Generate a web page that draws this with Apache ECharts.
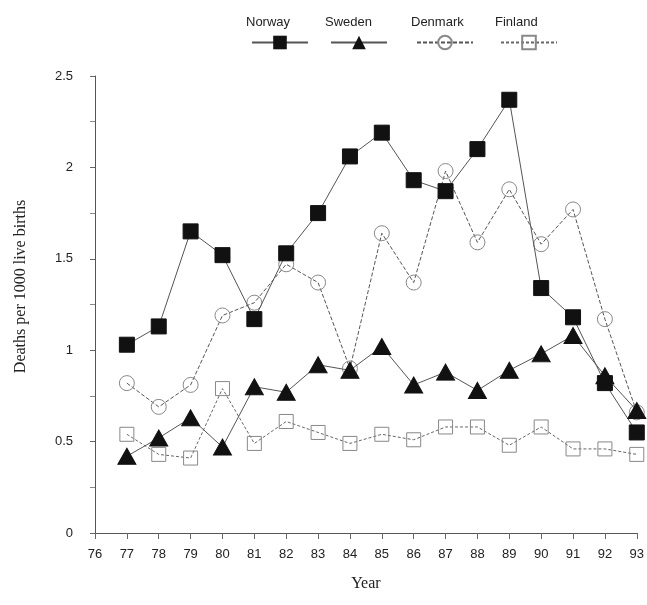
<!DOCTYPE html>
<html>
<head>
<meta charset="utf-8">
<script src="https://cdn.jsdelivr.net/npm/echarts@6/dist/echarts.min.js"></script>
<style>
  html, body { margin: 0; padding: 0; background: #fff; }
  #chart { width: 647px; height: 605px; }
</style>
</head>
<body>
<div id="chart"></div>
<script>
// data
const years = [77, 78, 79, 80, 81, 82, 83, 84, 85, 86, 87, 88, 89, 90, 91, 92, 93]
const norway = [1.03, 1.13, 1.65, 1.52, 1.17, 1.53, 1.75, 2.06, 2.19, 1.93, 1.87, 2.1, 2.37, 1.34, 1.18, 0.82, 0.55]
const sweden = [0.42, 0.52, 0.63, 0.47, 0.8, 0.77, 0.92, 0.89, 1.02, 0.81, 0.88, 0.78, 0.89, 0.98, 1.08, 0.86, 0.67]
const denmark = [0.82, 0.69, 0.81, 1.19, 1.26, 1.47, 1.37, 0.9, 1.64, 1.37, 1.98, 1.59, 1.88, 1.58, 1.77, 1.17, 0.66]
const finland = [0.54, 0.43, 0.41, 0.79, 0.49, 0.61, 0.55, 0.49, 0.54, 0.51, 0.58, 0.58, 0.48, 0.58, 0.46, 0.46, 0.43]
const seriesNames = ['Norway', 'Sweden', 'Denmark', 'Finland']
const yTicks = [0, 0.5, 1, 1.5, 2, 2.5]

const chart = echarts.init(document.getElementById('chart'))

const pairs = arr => years.map((y, i) => [y, arr[i]])

// legend: symbol under the name, one small legend per country
const legendPos = [
  { name: seriesNames[0], cx: 279 },
  { name: seriesNames[1], cx: 358 },
  { name: seriesNames[2], cx: 444 },
  { name: seriesNames[3], cx: 528 }
]

const option = {
  backgroundColor: '#fff',
  animation: false,
  grid: { left: 95, right: 10, top: 76, bottom: 72 },
  legend: legendPos.map(p => ({
    data: [p.name],
    left: p.cx - 28,
    top: 34,
    itemWidth: 56,
    itemHeight: 17,
    itemGap: 0,
    padding: 0,
    formatter: () => '',
    selectedMode: false
  })),
  graphic: legendPos.map(p => ({
    type: 'text',
    left: p.cx - 33,
    top: 16,
    style: {
      text: p.name,
      font: '13px "Liberation Sans", Arial, sans-serif',
      fill: '#222',
      width: 66,
      align: 'center'
    }
  })),
  xAxis: {
    type: 'value',
    min: 76,
    max: 93,
    interval: 1,
    offset: 3,
    name: 'Year',
    nameLocation: 'middle',
    nameGap: 40,
    nameTextStyle: { fontFamily: '"Liberation Serif", serif', fontSize: 16, color: '#222' },
    axisLine: { show: true, lineStyle: { color: '#555', width: 1 } },
    axisTick: { show: true, length: 6, lineStyle: { color: '#666' } },
    axisLabel: { margin: 12, fontFamily: '"Liberation Sans", Arial, sans-serif', fontSize: 13, color: '#222' },
    splitLine: { show: false }
  },
  yAxis: {
    type: 'value',
    min: 0,
    max: 2.5,
    interval: 0.5,
    name: 'Deaths per 1000 live births',
    nameLocation: 'middle',
    nameGap: 66,
    nameTextStyle: {
      fontFamily: '"Liberation Serif", serif',
      fontSize: 16,
      color: '#222',
      padding: [0, 0, 0, 36]
    },
    axisLine: { show: true, lineStyle: { color: '#555', width: 1 } },
    axisTick: { show: true, length: 5, lineStyle: { color: '#666' } },
    minorTick: { show: true, splitNumber: 2, length: 5, lineStyle: { color: '#888' } },
    axisLabel: {
      margin: 22,
      fontFamily: '"Liberation Sans", Arial, sans-serif',
      fontSize: 13,
      color: '#222',
      formatter: v => (yTicks.includes(v) ? String(v) : '')
    },
    splitLine: { show: false }
  },
  series: [
    {
      name: 'Norway',
      type: 'line',
      data: pairs(norway),
      symbol: 'rect',
      symbolSize: 15,
      itemStyle: { color: '#111', borderColor: '#111' },
      lineStyle: { color: '#555', width: 1 },
      z: 4
    },
    {
      name: 'Sweden',
      type: 'line',
      data: pairs(sweden),
      symbol: 'triangle',
      symbolSize: [18, 16],
      itemStyle: { color: '#111', borderColor: '#111' },
      lineStyle: { color: '#555', width: 1 },
      z: 5
    },
    {
      name: 'Denmark',
      type: 'line',
      data: pairs(denmark),
      symbol: 'circle',
      symbolSize: 15,
      itemStyle: { color: 'rgba(255,255,255,0)', borderColor: '#888', borderWidth: 1 },
      lineStyle: { color: '#555', width: 1, type: [4, 2] },
      z: 3
    },
    {
      name: 'Finland',
      type: 'line',
      data: pairs(finland),
      symbol: 'rect',
      symbolSize: 14,
      itemStyle: { color: 'rgba(255,255,255,0)', borderColor: '#888', borderWidth: 1 },
      lineStyle: { color: '#666', width: 1, type: [3, 2] },
      z: 2
    }
  ]
}

chart.setOption(option)
</script>
</body>
</html>
